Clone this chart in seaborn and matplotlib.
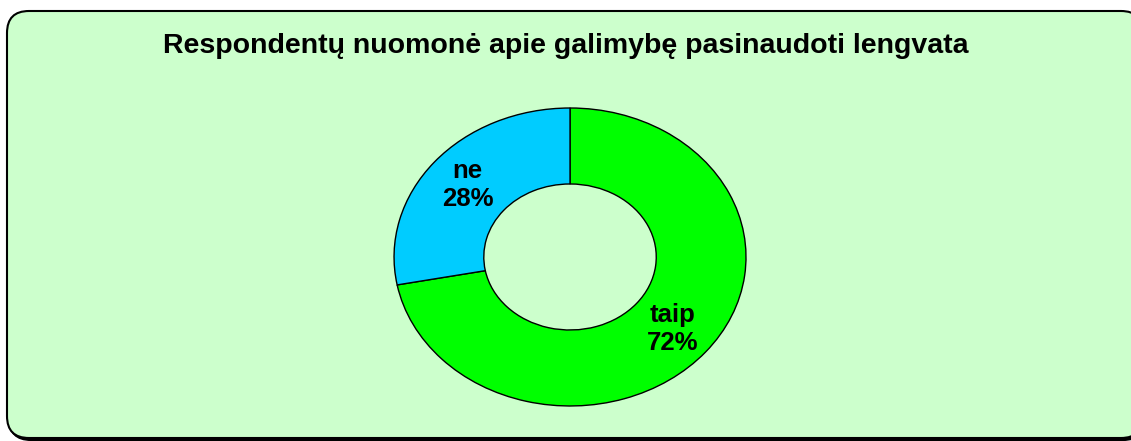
import matplotlib
matplotlib.use('Agg')
import matplotlib.pyplot as plt
from matplotlib.patches import FancyBboxPatch
import seaborn as sns

# Duomenys
kategorijos = ['taip', 'ne']
reiksmes = [72, 28]
spalvos = ['#00FF00', '#00CCFF']
pavadinimas = 'Respondentų nuomonė apie galimybę pasinaudoti lengvata'

sns.set_style('white')
plt.rcParams['font.family'] = ['Liberation Sans', 'DejaVu Sans']

fig = plt.figure(figsize=(11.31, 4.41), dpi=100)
fig.patch.set_facecolor('white')

# Fono rėmelis (pikseliais)
ax_bg = fig.add_axes([0, 0, 1, 1])
ax_bg.set_xlim(0, 1131)
ax_bg.set_ylim(441, 0)
ax_bg.axis('off')
seselis = FancyBboxPatch((9, 13), 1136, 427, boxstyle='round,pad=0,rounding_size=22',
                         facecolor='black', edgecolor='black', linewidth=1.5)
ax_bg.add_patch(seselis)
remas = FancyBboxPatch((7, 11), 1136, 427, boxstyle='round,pad=0,rounding_size=22',
                       facecolor='#CCFFCC', edgecolor='black', linewidth=1.5)
ax_bg.add_patch(remas)

fig.text(0.5, 0.895, pavadinimas, ha='center', va='center',
         fontsize=20.5, fontweight='bold', color='black')

# Žiedinė diagrama
ax = fig.add_axes([0.3484, 0.0794, 0.3112, 0.6757])
ax.set_facecolor('none')
etiketes = [f'{k}\n{v}%' for k, v in zip(kategorijos, reiksmes)]
wedges, texts = ax.pie(reiksmes, labels=etiketes, colors=spalvos, startangle=90,
                       counterclock=False, labeldistance=0.755,
                       wedgeprops=dict(width=0.51, edgecolor='black', linewidth=1.0),
                       textprops=dict(fontsize=18.5, fontweight='bold', color='black',
                                      ha='center', va='center', linespacing=1.2))
ax.set_aspect('auto')
ax.set_xlim(-1, 1)
ax.set_ylim(-1, 1)

fig.savefig('out.png', dpi=100, facecolor='white')
